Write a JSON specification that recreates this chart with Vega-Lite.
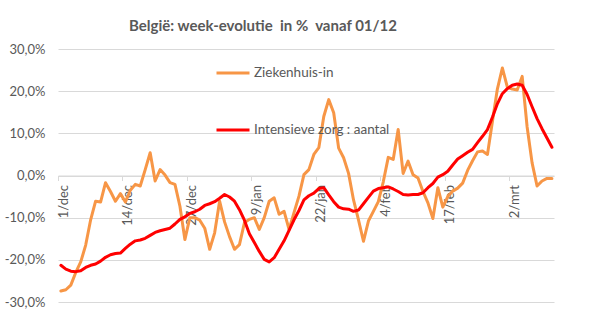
{
  "$schema": "https://vega.github.io/schema/vega-lite/v6.json",
  "width": 496,
  "height": 253,
  "autosize": {"type": "none"},
  "padding": {"left": 58, "top": 49, "right": 41, "bottom": 11},
  "background": "white",
  "config": {"font": "Lato", "view": {"stroke": null}},
  "title": {"text": "België: week-evolutie \u00a0in % \u00a0vanaf 01/12", "font": "Lato", "fontSize": 15, "fontWeight": "bold", "color": "#595959", "anchor": "middle", "frame": "group", "dx": -43, "offset": 9},
  "data": {
    "format": {"parse": {"dag": "utc:'%Y-%m-%d'"}},
    "values": [
      {"dag": "2020-12-01", "Ziekenhuis-in": -27.4, "Intensieve zorg : aantal": -21.3},
      {"dag": "2020-12-02", "Ziekenhuis-in": -27.1, "Intensieve zorg : aantal": -22.2},
      {"dag": "2020-12-03", "Ziekenhuis-in": -26.0, "Intensieve zorg : aantal": -22.7},
      {"dag": "2020-12-04", "Ziekenhuis-in": -23.0, "Intensieve zorg : aantal": -22.8},
      {"dag": "2020-12-05", "Ziekenhuis-in": -20.5, "Intensieve zorg : aantal": -22.6},
      {"dag": "2020-12-06", "Ziekenhuis-in": -16.5, "Intensieve zorg : aantal": -21.8},
      {"dag": "2020-12-07", "Ziekenhuis-in": -10.5, "Intensieve zorg : aantal": -21.3},
      {"dag": "2020-12-08", "Ziekenhuis-in": -6.1, "Intensieve zorg : aantal": -21.0},
      {"dag": "2020-12-09", "Ziekenhuis-in": -6.3, "Intensieve zorg : aantal": -20.3},
      {"dag": "2020-12-10", "Ziekenhuis-in": -1.7, "Intensieve zorg : aantal": -19.4},
      {"dag": "2020-12-11", "Ziekenhuis-in": -3.8, "Intensieve zorg : aantal": -18.8},
      {"dag": "2020-12-12", "Ziekenhuis-in": -6.1, "Intensieve zorg : aantal": -18.5},
      {"dag": "2020-12-13", "Ziekenhuis-in": -4.3, "Intensieve zorg : aantal": -18.4},
      {"dag": "2020-12-14", "Ziekenhuis-in": -6.3, "Intensieve zorg : aantal": -17.3},
      {"dag": "2020-12-15", "Ziekenhuis-in": -3.5, "Intensieve zorg : aantal": -16.3},
      {"dag": "2020-12-16", "Ziekenhuis-in": -2.1, "Intensieve zorg : aantal": -15.5},
      {"dag": "2020-12-17", "Ziekenhuis-in": -2.5, "Intensieve zorg : aantal": -15.3},
      {"dag": "2020-12-18", "Ziekenhuis-in": 1.4, "Intensieve zorg : aantal": -14.9},
      {"dag": "2020-12-19", "Ziekenhuis-in": 5.4, "Intensieve zorg : aantal": -14.2},
      {"dag": "2020-12-20", "Ziekenhuis-in": -1.3, "Intensieve zorg : aantal": -13.5},
      {"dag": "2020-12-21", "Ziekenhuis-in": 1.4, "Intensieve zorg : aantal": -13.1},
      {"dag": "2020-12-22", "Ziekenhuis-in": 0.1, "Intensieve zorg : aantal": -12.8},
      {"dag": "2020-12-23", "Ziekenhuis-in": -1.7, "Intensieve zorg : aantal": -12.5},
      {"dag": "2020-12-24", "Ziekenhuis-in": -2.1, "Intensieve zorg : aantal": -11.5},
      {"dag": "2020-12-25", "Ziekenhuis-in": -7.3, "Intensieve zorg : aantal": -10.4},
      {"dag": "2020-12-26", "Ziekenhuis-in": -15.2, "Intensieve zorg : aantal": -9.8},
      {"dag": "2020-12-27", "Ziekenhuis-in": -10.0, "Intensieve zorg : aantal": -9.0},
      {"dag": "2020-12-28", "Ziekenhuis-in": -10.0, "Intensieve zorg : aantal": -8.6},
      {"dag": "2020-12-29", "Ziekenhuis-in": -10.6, "Intensieve zorg : aantal": -8.0},
      {"dag": "2020-12-30", "Ziekenhuis-in": -12.5, "Intensieve zorg : aantal": -7.1},
      {"dag": "2020-12-31", "Ziekenhuis-in": -17.5, "Intensieve zorg : aantal": -6.7},
      {"dag": "2021-01-01", "Ziekenhuis-in": -13.6, "Intensieve zorg : aantal": -6.2},
      {"dag": "2021-01-02", "Ziekenhuis-in": -6.1, "Intensieve zorg : aantal": -5.4},
      {"dag": "2021-01-03", "Ziekenhuis-in": -11.0, "Intensieve zorg : aantal": -4.5},
      {"dag": "2021-01-04", "Ziekenhuis-in": -14.5, "Intensieve zorg : aantal": -5.1},
      {"dag": "2021-01-05", "Ziekenhuis-in": -17.5, "Intensieve zorg : aantal": -6.1},
      {"dag": "2021-01-06", "Ziekenhuis-in": -16.4, "Intensieve zorg : aantal": -8.1},
      {"dag": "2021-01-07", "Ziekenhuis-in": -11.2, "Intensieve zorg : aantal": -10.6},
      {"dag": "2021-01-08", "Ziekenhuis-in": -10.4, "Intensieve zorg : aantal": -13.8},
      {"dag": "2021-01-09", "Ziekenhuis-in": -10.0, "Intensieve zorg : aantal": -15.9},
      {"dag": "2021-01-10", "Ziekenhuis-in": -12.8, "Intensieve zorg : aantal": -18.0},
      {"dag": "2021-01-11", "Ziekenhuis-in": -10.0, "Intensieve zorg : aantal": -19.9},
      {"dag": "2021-01-12", "Ziekenhuis-in": -6.1, "Intensieve zorg : aantal": -20.5},
      {"dag": "2021-01-13", "Ziekenhuis-in": -5.3, "Intensieve zorg : aantal": -19.5},
      {"dag": "2021-01-14", "Ziekenhuis-in": -9.2, "Intensieve zorg : aantal": -17.5},
      {"dag": "2021-01-15", "Ziekenhuis-in": -8.5, "Intensieve zorg : aantal": -15.5},
      {"dag": "2021-01-16", "Ziekenhuis-in": -12.8, "Intensieve zorg : aantal": -13.0},
      {"dag": "2021-01-17", "Ziekenhuis-in": -8.8, "Intensieve zorg : aantal": -10.5},
      {"dag": "2021-01-18", "Ziekenhuis-in": -4.9, "Intensieve zorg : aantal": -8.3},
      {"dag": "2021-01-19", "Ziekenhuis-in": 0.2, "Intensieve zorg : aantal": -5.8},
      {"dag": "2021-01-20", "Ziekenhuis-in": 1.4, "Intensieve zorg : aantal": -4.8},
      {"dag": "2021-01-21", "Ziekenhuis-in": 5.0, "Intensieve zorg : aantal": -4.2},
      {"dag": "2021-01-22", "Ziekenhuis-in": 6.6, "Intensieve zorg : aantal": -3.1},
      {"dag": "2021-01-23", "Ziekenhuis-in": 14.0, "Intensieve zorg : aantal": -2.9},
      {"dag": "2021-01-24", "Ziekenhuis-in": 18.0, "Intensieve zorg : aantal": -4.6},
      {"dag": "2021-01-25", "Ziekenhuis-in": 14.9, "Intensieve zorg : aantal": -6.2},
      {"dag": "2021-01-26", "Ziekenhuis-in": 6.5, "Intensieve zorg : aantal": -7.5},
      {"dag": "2021-01-27", "Ziekenhuis-in": 4.2, "Intensieve zorg : aantal": -7.9},
      {"dag": "2021-01-28", "Ziekenhuis-in": 0.5, "Intensieve zorg : aantal": -8.0},
      {"dag": "2021-01-29", "Ziekenhuis-in": -5.8, "Intensieve zorg : aantal": -8.5},
      {"dag": "2021-01-30", "Ziekenhuis-in": -10.5, "Intensieve zorg : aantal": -8.2},
      {"dag": "2021-01-31", "Ziekenhuis-in": -15.6, "Intensieve zorg : aantal": -6.7},
      {"dag": "2021-02-01", "Ziekenhuis-in": -10.8, "Intensieve zorg : aantal": -5.2},
      {"dag": "2021-02-02", "Ziekenhuis-in": -8.5, "Intensieve zorg : aantal": -3.7},
      {"dag": "2021-02-03", "Ziekenhuis-in": -6.2, "Intensieve zorg : aantal": -3.1},
      {"dag": "2021-02-04", "Ziekenhuis-in": -1.5, "Intensieve zorg : aantal": -2.9},
      {"dag": "2021-02-05", "Ziekenhuis-in": 4.3, "Intensieve zorg : aantal": -2.7},
      {"dag": "2021-02-06", "Ziekenhuis-in": 3.8, "Intensieve zorg : aantal": -3.2},
      {"dag": "2021-02-07", "Ziekenhuis-in": 10.9, "Intensieve zorg : aantal": -3.8},
      {"dag": "2021-02-08", "Ziekenhuis-in": 0.5, "Intensieve zorg : aantal": -4.5},
      {"dag": "2021-02-09", "Ziekenhuis-in": 3.4, "Intensieve zorg : aantal": -4.6},
      {"dag": "2021-02-10", "Ziekenhuis-in": 0.2, "Intensieve zorg : aantal": -4.5},
      {"dag": "2021-02-11", "Ziekenhuis-in": -0.6, "Intensieve zorg : aantal": -4.5},
      {"dag": "2021-02-12", "Ziekenhuis-in": -3.8, "Intensieve zorg : aantal": -4.1},
      {"dag": "2021-02-13", "Ziekenhuis-in": -6.5, "Intensieve zorg : aantal": -2.9},
      {"dag": "2021-02-14", "Ziekenhuis-in": -10.2, "Intensieve zorg : aantal": -1.9},
      {"dag": "2021-02-15", "Ziekenhuis-in": -2.9, "Intensieve zorg : aantal": -0.4},
      {"dag": "2021-02-16", "Ziekenhuis-in": -7.5, "Intensieve zorg : aantal": 0.2},
      {"dag": "2021-02-17", "Ziekenhuis-in": -5.0, "Intensieve zorg : aantal": 1.0},
      {"dag": "2021-02-18", "Ziekenhuis-in": -3.7, "Intensieve zorg : aantal": 2.5},
      {"dag": "2021-02-19", "Ziekenhuis-in": -3.0, "Intensieve zorg : aantal": 3.9},
      {"dag": "2021-02-20", "Ziekenhuis-in": -1.8, "Intensieve zorg : aantal": 4.7},
      {"dag": "2021-02-21", "Ziekenhuis-in": 1.2, "Intensieve zorg : aantal": 5.5},
      {"dag": "2021-02-22", "Ziekenhuis-in": 3.5, "Intensieve zorg : aantal": 6.2},
      {"dag": "2021-02-23", "Ziekenhuis-in": 5.6, "Intensieve zorg : aantal": 7.8},
      {"dag": "2021-02-24", "Ziekenhuis-in": 5.8, "Intensieve zorg : aantal": 9.3},
      {"dag": "2021-02-25", "Ziekenhuis-in": 5.0, "Intensieve zorg : aantal": 10.9},
      {"dag": "2021-02-26", "Ziekenhuis-in": 12.8, "Intensieve zorg : aantal": 13.8},
      {"dag": "2021-02-27", "Ziekenhuis-in": 20.5, "Intensieve zorg : aantal": 17.0},
      {"dag": "2021-02-28", "Ziekenhuis-in": 25.5, "Intensieve zorg : aantal": 19.4},
      {"dag": "2021-03-01", "Ziekenhuis-in": 21.0, "Intensieve zorg : aantal": 20.6},
      {"dag": "2021-03-02", "Ziekenhuis-in": 20.5, "Intensieve zorg : aantal": 21.4},
      {"dag": "2021-03-03", "Ziekenhuis-in": 20.3, "Intensieve zorg : aantal": 21.7},
      {"dag": "2021-03-04", "Ziekenhuis-in": 23.5, "Intensieve zorg : aantal": 21.4},
      {"dag": "2021-03-05", "Ziekenhuis-in": 11.5, "Intensieve zorg : aantal": 19.2},
      {"dag": "2021-03-06", "Ziekenhuis-in": 3.0, "Intensieve zorg : aantal": 16.3},
      {"dag": "2021-03-07", "Ziekenhuis-in": -2.5, "Intensieve zorg : aantal": 13.5},
      {"dag": "2021-03-08", "Ziekenhuis-in": -1.3, "Intensieve zorg : aantal": 11.1},
      {"dag": "2021-03-09", "Ziekenhuis-in": -0.7, "Intensieve zorg : aantal": 8.9},
      {"dag": "2021-03-10", "Ziekenhuis-in": -0.7, "Intensieve zorg : aantal": 6.7}
    ]
  },
  "transform": [{"fold": ["Ziekenhuis-in", "Intensieve zorg : aantal"], "as": ["reeks", "waarde"]}],
  "mark": {"type": "line", "strokeWidth": 3, "strokeJoin": "round", "strokeCap": "round"},
  "encoding": {
    "x": {
      "field": "dag",
      "type": "temporal",
      "scale": {"type": "utc", "domain": [
        {"year": 2020, "month": 11, "date": 30, "hours": 10, "utc": true},
        {"year": 2021, "month": 3, "date": 10, "hours": 10, "utc": true}
      ]},
      "axis": {
        "orient": "bottom",
        "offset": -126.5,
        "values": [
          {"year": 2020, "month": 11, "date": 30, "hours": 10, "utc": true},
          {"year": 2020, "month": 12, "date": 13, "hours": 10, "utc": true},
          {"year": 2020, "month": 12, "date": 26, "hours": 10, "utc": true},
          {"year": 2021, "month": 1, "date": 8, "hours": 10, "utc": true},
          {"year": 2021, "month": 1, "date": 21, "hours": 10, "utc": true},
          {"year": 2021, "month": 2, "date": 3, "hours": 10, "utc": true},
          {"year": 2021, "month": 2, "date": 16, "hours": 10, "utc": true},
          {"year": 2021, "month": 3, "date": 1, "hours": 10, "utc": true}
        ],
        "labelExpr": "utcdate(time(datum.value) + 50400000) + '/' + ['jan','feb','mrt','apr','mei','jun','jul','aug','sep','okt','nov','dec'][utcmonth(time(datum.value) + 50400000)]",
        "labelAngle": 270,
        "labelOffset": 5,
        "labelPadding": 4,
        "tickSize": 5,
        "tickColor": "#D9D9D9",
        "domainColor": "#D9D9D9",
        "grid": false,
        "title": null,
        "labelFont": "Lato",
        "labelFontSize": 13,
        "labelColor": "#595959",
        "labelOverlap": false,
        "labelFlush": false,
        "labelBound": false
      }
    },
    "y": {
      "field": "waarde",
      "type": "quantitative",
      "scale": {"domain": [-30, 30]},
      "axis": {
        "values": [-30, -20, -10, 0, 10, 20, 30],
        "labelExpr": "(datum.value < 0 ? '-' : '') + replace(format(abs(datum.value), '.1f'), '.', ',') + '%'",
        "grid": true,
        "gridColor": "#D9D9D9",
        "domain": false,
        "ticks": false,
        "labelPadding": 13,
        "labelFont": "Lato",
        "labelFontSize": 13,
        "labelColor": "#595959",
        "title": null
      }
    },
    "color": {
      "field": "reeks",
      "type": "nominal",
      "scale": {"domain": ["Ziekenhuis-in", "Intensieve zorg : aantal"], "range": ["#F79646", "#FF0000"]},
      "legend": {
        "orient": "none",
        "legendX": 157,
        "legendY": 6,
        "title": null,
        "direction": "vertical",
        "symbolType": "stroke",
        "symbolSize": 1089,
        "symbolStrokeWidth": 3,
        "labelFont": "Lato",
        "labelFontSize": 13.5,
        "labelColor": "#595959",
        "labelOffset": 3,
        "rowPadding": 32,
        "padding": 0
      }
    }
  }
}
